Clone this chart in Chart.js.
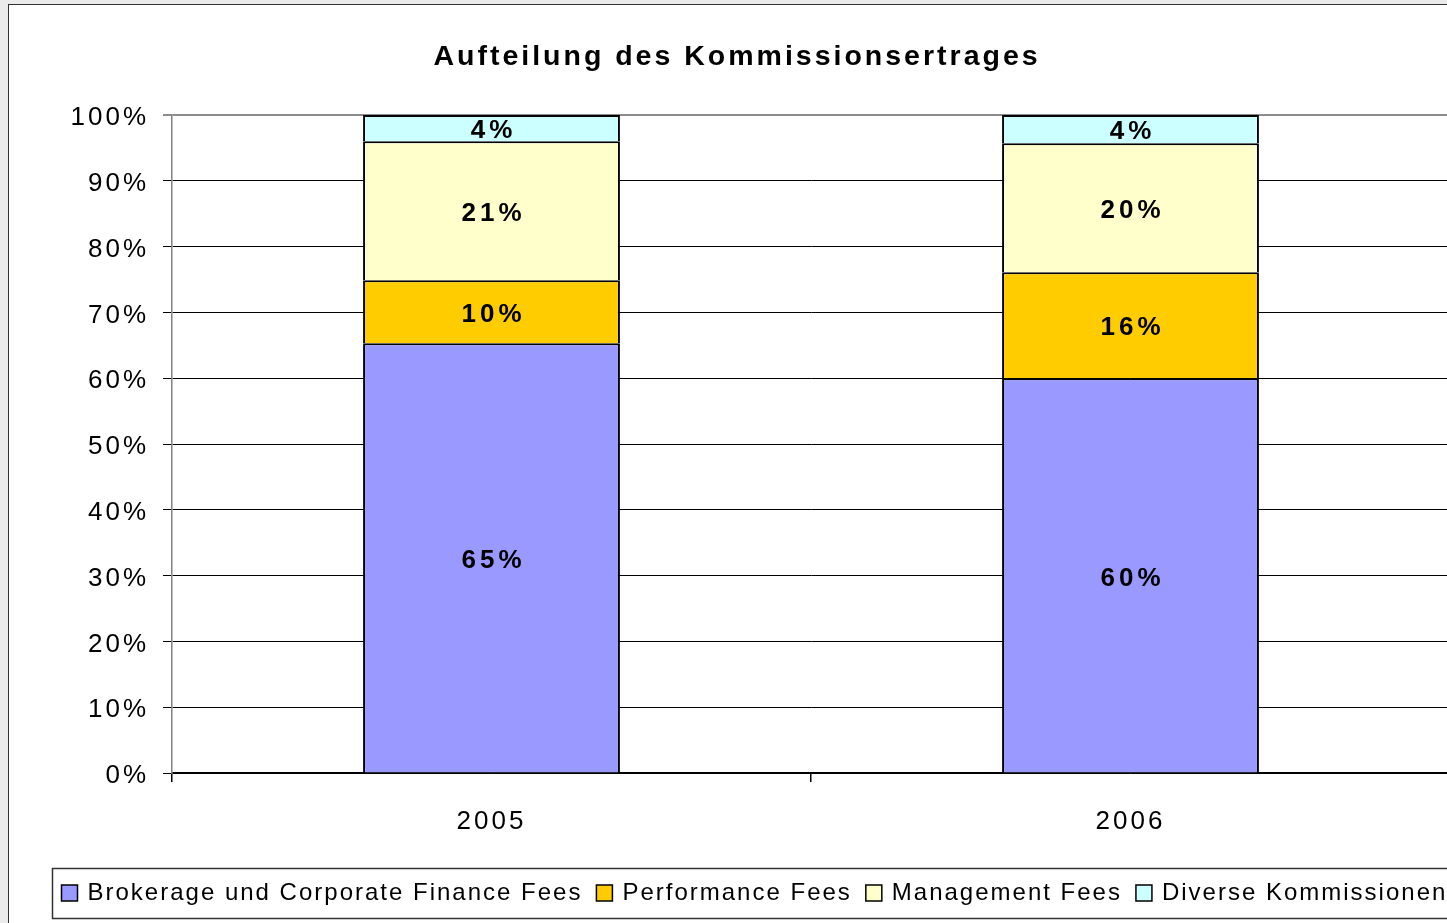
<!DOCTYPE html>
<html>
<head>
<meta charset="utf-8">
<script src="https://cdn.jsdelivr.net/npm/chart.js@4.4.1/dist/chart.umd.min.js"></script>
<style>
  html, body { margin: 0; padding: 0; background: #ebebeb; overflow: hidden; width: 1447px; height: 923px; }
  #frame { position: absolute; left: 8px; top: 4px; width: 1600px; height: 1000px; background: #fff; border: 1.5px solid #333; }
  #wrap { position: absolute; left: 0; top: 0; width: 1474px; height: 923px; }
</style>
</head>
<body>
<div id="frame"></div>
<div id="wrap"><canvas id="c" width="1474" height="923"></canvas></div>
<script>
const titleText = 'Aufteilung des Kommissionsertrages';
const categories = ['2005', '2006'];
const seriesNames = ['Brokerage und Corporate Finance Fees', 'Performance Fees', 'Management Fees', 'Diverse Kommissionen'];
const brokerage = [65.3, 60.0];
const performance = [9.6, 16.1];
const management = [21.1, 19.6];
const diverse = [4.0, 4.3];
const seriesColors = ['#9999FF', '#FFCC00', '#FFFFCC', '#CCFFFF'];
const yTicks = [0, 10, 20, 30, 40, 50, 60, 70, 80, 90, 100];

const FONT = '"Liberation Sans", Arial, sans-serif';
const seriesValues = [brokerage, performance, management, diverse];

const spacingPlugin = {
  id: 'spacing',
  beforeUpdate(chart) { chart.ctx.letterSpacing = '3px'; },
  beforeDraw(chart) { chart.ctx.letterSpacing = '3px'; }
};

const labelPlugin = {
  id: 'segLabels',
  afterDatasetsDraw(chart) {
    const ctx = chart.ctx;
    ctx.save();
    ctx.letterSpacing = '4px';
    ctx.font = 'bold 26px ' + FONT;
    ctx.fillStyle = '#000';
    ctx.textAlign = 'center';
    ctx.textBaseline = 'middle';
    chart.data.datasets.forEach((ds, di) => {
      const meta = chart.getDatasetMeta(di);
      meta.data.forEach((el, i) => {
        const v = ds.data[i];
        const y = (el.y + el.base) / 2 + 3;
        ctx.fillText(Math.round(v) + '%', el.x + 2, y);
      });
    });
    ctx.restore();
  }
};

const legendPlugin = {
  id: 'boxLegend',
  afterDraw(chart) {
    const ctx = chart.ctx;
    ctx.save();
    ctx.letterSpacing = '2px';
    ctx.strokeStyle = '#333';
    ctx.lineWidth = 1.5;
    ctx.strokeRect(52.5, 868.5, 1600, 50);
    ctx.font = '24px ' + FONT;
    ctx.textBaseline = 'middle';
    ctx.textAlign = 'left';
    let x = 61.5;
    chart.data.datasets.forEach((ds) => {
      ctx.fillStyle = ds.backgroundColor;
      ctx.fillRect(x, 885, 16, 16);
      ctx.strokeStyle = '#000';
      ctx.lineWidth = 1.5;
      ctx.strokeRect(x, 885, 16, 16);
      ctx.fillStyle = '#000';
      ctx.fillText(ds.label, x + 26, 893);
      const w = ctx.measureText(ds.label).width;
      x = x + 26 + w + 14;
    });
    ctx.restore();
  }
};

new Chart(document.getElementById('c'), {
  type: 'bar',
  data: {
    labels: categories,
    datasets: seriesNames.map((name, k) => ({
      label: name,
      data: seriesValues[k],
      backgroundColor: seriesColors[k],
      borderColor: '#000',
      borderWidth: 2,
      categoryPercentage: 1,
      barPercentage: 0.402
    }))
  },
  options: {
    responsive: false,
    animation: false,
    devicePixelRatio: 1,
    layout: { padding: { left: 24, right: 24, top: 10, bottom: 0 } },
    plugins: {
      legend: { display: false },
      tooltip: { enabled: false },
      title: {
        display: true,
        text: titleText,
        color: '#000',
        font: { family: FONT, size: 28.5, weight: 'bold', lineHeight: 1.2 },
        padding: { top: 30, bottom: 40.8 }
      }
    },
    scales: {
      x: {
        stacked: true,
        offset: true,
        grid: { offset: true, drawOnChartArea: false, drawTicks: true, tickLength: 9, color: '#000', lineWidth: 1.5 },
        border: { display: true, color: '#000', width: 1.5 },
        ticks: { color: '#000', font: { family: FONT, size: 26 }, padding: 24, maxRotation: 0 },
        afterFit(scale) { scale.height = 150; }
      },
      y: {
        stacked: true,
        min: 0,
        max: 100,
        afterBuildTicks(scale) { scale.ticks = yTicks.map(v => ({ value: v })); },
        grid: {
          color: (c) => (c.tick && c.tick.value === 100 ? '#8c8c8c' : '#000'),
          lineWidth: (c) => (c.tick && c.tick.value === 100 ? 2 : 1),
          tickLength: 9
        },
        border: { display: true, color: '#808080', width: 1.5 },
        ticks: { color: '#000', font: { family: FONT, size: 26 }, padding: 14, labelOffset: 3, callback: (v) => v + '%' },
        afterFit(scale) { scale.width = 148; }
      }
    }
  },
  plugins: [spacingPlugin, labelPlugin, legendPlugin]
});
</script>
</body>
</html>
